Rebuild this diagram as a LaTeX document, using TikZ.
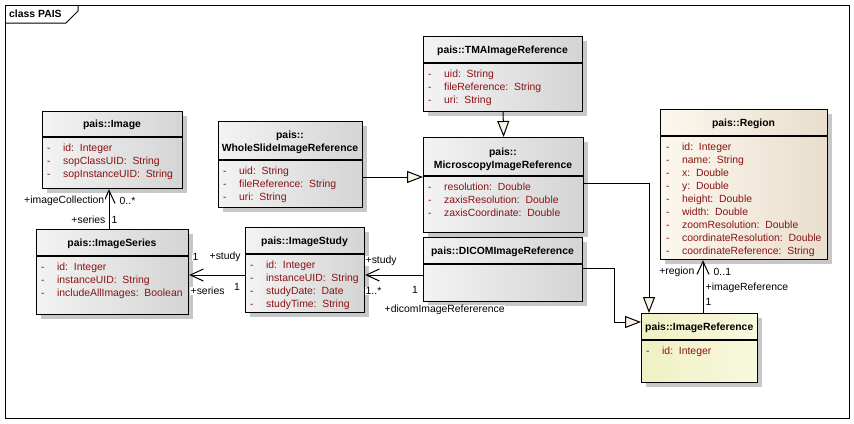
\documentclass[tikz,border=0pt]{standalone}
\usepackage{fontspec}
\setmainfont{Liberation Sans}
\usetikzlibrary{arrows.meta,shadows}

\newcommand{\umlfont}{\fontsize{10.4}{13}\selectfont}
\definecolor{attrrod}{RGB}{138,18,18}
\definecolor{graalys}{RGB}{243,243,243}
\definecolor{graamork}{RGB}{212,212,212}
\definecolor{beigelys}{RGB}{252,247,238}
\definecolor{beigemork}{RGB}{233,222,205}
\definecolor{gullys}{RGB}{240,240,196}
\definecolor{gulmork}{RGB}{248,248,222}
\definecolor{trekant}{RGB}{250,243,230}

\tikzset{
	klasse/.style={draw, line width=1.2pt, anchor=north west, inner sep=0pt,
		left color=graalys, right color=graamork,
		drop shadow={shadow xshift=4pt, shadow yshift=-4pt, fill=black!22, opacity=1}},
	kant/.style={line width=1.2pt},
	hode/.style={font=\bfseries\umlfont, inner sep=0pt, align=center},
	attr/.style={font=\umlfont, text=attrrod, anchor=north west, inner sep=0pt},
	rolle/.style={font=\umlfont, fill=white, inner sep=0.5pt},
	assoc/.style={line width=1pt, -{Straight Barb[length=13pt,width=12pt]}},
	arv/.style={line width=1pt, -{Triangle[length=16pt,width=12pt,fill=trekant]}}
}

\begin{document}
\begin{tikzpicture}[x=1pt,y=-1pt]
  \useasboundingbox (0,0) rectangle (854,423);

  %rammen
  	\draw[line width=1pt] (5,5) rectangle (849,418);
  	\draw[line width=1pt] (5,23) -- (66,23) -- (78,11) -- (78,5);
  	\node[font=\bfseries\umlfont, anchor=west, inner sep=0pt] (tittel) at (9,14) {class PAIS};

  %pais::Image
  	\node[klasse, minimum width=140pt, minimum height=77pt] (img) at (42,111) {};
  	\draw[kant] (img.west |- 0,137) -- (img.east |- 0,137);
  	\node[hode] (imgnavn) at (112,125) {pais::Image};
  	\node[attr] (imgattr) at (47,142) {\begin{tabular}{@{}l@{\hspace{12.5pt}}l@{}}
  		-&id:\ \ Integer\\
  		-&sopClassUID:\ \ String\\
  		-&sopInstanceUID:\ \ String
  	\end{tabular}};

  %pais::WholeSlideImageReference
  	\node[klasse, minimum width=144pt, minimum height=86pt] (wsi) at (218,121) {};
  	\draw[kant] (wsi.west |- 0,160) -- (wsi.east |- 0,160);
  	\node[hode] (wsinavn) at (290,142.5) {pais::\\WholeSlideImageReference};
  	\node[attr] (wsiattr) at (223,165) {\begin{tabular}{@{}l@{\hspace{12.5pt}}l@{}}
  		-&uid:\ \ String\\
  		-&fileReference:\ \ String\\
  		-&uri:\ \ String
  	\end{tabular}};

  %pais::TMAImageReference
  	\node[klasse, minimum width=159pt, minimum height=75pt] (tma) at (423,36) {};
  	\draw[kant] (tma.west |- 0,63) -- (tma.east |- 0,63);
  	\node[hode] (tmanavn) at (502.5,51) {pais::TMAImageReference};
  	\node[attr] (tmaattr) at (428,68) {\begin{tabular}{@{}l@{\hspace{12.5pt}}l@{}}
  		-&uid:\ \ String\\
  		-&fileReference:\ \ String\\
  		-&uri:\ \ String
  	\end{tabular}};

  %pais::MicroscopyImageReference
  	\node[klasse, minimum width=160pt, minimum height=95pt] (mic) at (423,137) {};
  	\draw[kant] (mic.west |- 0,176) -- (mic.east |- 0,176);
  	\node[hode] (micnavn) at (503,159) {pais::\\MicroscopyImageReference};
  	\node[attr] (micattr) at (428,181) {\begin{tabular}{@{}l@{\hspace{12.5pt}}l@{}}
  		-&resolution:\ \ Double\\
  		-&zaxisResolution:\ \ Double\\
  		-&zaxisCoordinate:\ \ Double
  	\end{tabular}};

  %pais::DICOMImageReference
  	\node[klasse, minimum width=159pt, minimum height=64pt] (dicom) at (423,237) {};
  	\draw[kant] (dicom.west |- 0,264) -- (dicom.east |- 0,264);
  	\node[hode] (dicomnavn) at (502.5,252) {pais::DICOMImageReference};

  %pais::Region
  	\node[klasse, left color=beigelys, right color=beigemork, minimum width=167pt, minimum height=150pt] (region) at (660,109) {};
  	\draw[kant] (region.west |- 0,136) -- (region.east |- 0,136);
  	\node[hode] (regionnavn) at (743.5,123.5) {pais::Region};
  	\node[attr] (regionattr) at (666,141) {\begin{tabular}{@{}l@{\hspace{12.5pt}}l@{}}
  		-&id:\ \ Integer\\
  		-&name:\ \ String\\
  		-&x:\ \ Double\\
  		-&y:\ \ Double\\
  		-&height:\ \ Double\\
  		-&width:\ \ Double\\
  		-&zoomResolution:\ \ Double\\
  		-&coordinateResolution:\ \ Double\\
  		-&coordinateReference:\ \ String
  	\end{tabular}};

  %pais::ImageReference
  	\node[klasse, left color=gullys, right color=gulmork, minimum width=116pt, minimum height=69pt] (imref) at (641,313) {};
  	\draw[kant] (imref.west |- 0,340) -- (imref.east |- 0,340);
  	\node[hode, anchor=west] (imrefnavn) at (645,328) {pais::ImageReference};
  	\node[attr] (imrefattr) at (646,345) {\begin{tabular}{@{}l@{\hspace{12.5pt}}l@{}}
  		-&id:\ \ Integer
  	\end{tabular}};

  %pais::ImageSeries
  	\node[klasse, minimum width=152pt, minimum height=85pt] (series) at (36,229) {};
  	\draw[kant] (series.west |- 0,256) -- (series.east |- 0,256);
  	\node[hode] (seriesnavn) at (112,244) {pais::ImageSeries};
  	\node[attr] (seriesattr) at (41,261) {\begin{tabular}{@{}l@{\hspace{12.5pt}}l@{}}
  		-&id:\ \ Integer\\
  		-&instanceUID:\ \ String\\
  		-&includeAllImages:\ \ Boolean
  	\end{tabular}};

  %pais::ImageStudy
  	\node[klasse, minimum width=119pt, minimum height=85pt] (study) at (245,227) {};
  	\draw[kant] (study.west |- 0,254) -- (study.east |- 0,254);
  	\node[hode] (studynavn) at (304.5,242) {pais::ImageStudy};
  	\node[attr] (studyattr) at (250,259) {\begin{tabular}{@{}l@{\hspace{12.5pt}}l@{}}
  		-&id:\ \ Integer\\
  		-&instanceUID:\ \ String\\
  		-&studyDate:\ \ Date\\
  		-&studyTime:\ \ String
  	\end{tabular}};

  %knekkpunkter
  	\coordinate (sx) at (109,0);
  	\coordinate (sy) at (0,275);
  	\coordinate (rx) at (703,0);
  	\coordinate (mx) at (649,0);
  	\coordinate (dknekk) at (614,322);

  %arv
  	\draw[arv] (wsi.east |- 0,177) -- (mic.west |- 0,177);
  	\draw[arv] (tma.south) -- (mic.north);
  	\draw[arv] (mic.east |- 0,183) -| (imref.north -| mx);
  	\draw[arv] (dicom.east |- 0,268) -| (dknekk) -- (imref.west |- dknekk);

  %assosiasjoner
  	\draw[assoc] (series.north -| sx) -- (img.south -| sx);
  	\draw[assoc] (imref.north -| rx) -- (region.south -| rx);
  	\draw[assoc] (study.west |- sy) -- (series.east |- sy);
  	\draw[assoc] (dicom.west |- sy) -- (study.east |- sy);

  %roller og multiplisitet
  	\node[rolle, anchor=east] (r1) at (105,201) {+imageCollection};
  	\node[rolle, anchor=west] (m1) at (119,201) {0..*};
  	\node[rolle, anchor=east] (r2) at (106,220) {+series};
  	\node[rolle, anchor=west] (m2) at (111,220) {1};
  	\node[rolle, anchor=west] (m3) at (192,257) {1};
  	\node[rolle, anchor=west] (r3) at (209,257) {+study};
  	\node[rolle, anchor=west] (r4) at (190,291) {+series};
  	\node[rolle] (m4) at (237,287) {1};
  	\node[rolle, anchor=west] (r5) at (365,261) {+study};
  	\node[rolle, anchor=west] (m5) at (365,291) {1..*};
  	\node[rolle] (m6) at (415,290) {1};
  	\node[rolle, anchor=west] (r6) at (384,310) {+dicomImageRefererence};
  	\node[rolle, anchor=east] (r7) at (695,272) {+region};
  	\node[rolle, anchor=west] (m7) at (713,272) {0..1};
  	\node[rolle, anchor=west] (r8) at (705,288) {+imageReference};
  	\node[rolle, anchor=west] (m8) at (705,302) {1};
\end{tikzpicture}
\end{document}
